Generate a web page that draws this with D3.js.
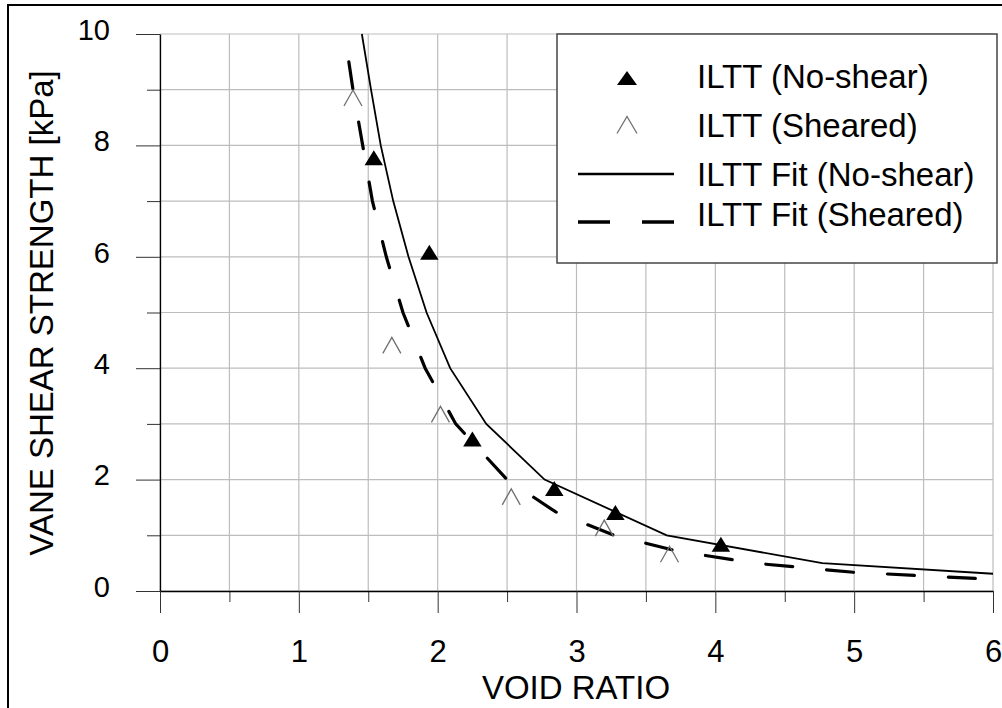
<!DOCTYPE html>
<html>
<head>
<meta charset="utf-8">
<script src="https://cdn.jsdelivr.net/npm/d3@7"></script>
<style>
  body { margin: 0; background: #fff; }
  svg { display: block; font-family: "Liberation Sans", Arial, sans-serif; }
</style>
</head>
<body>
<script>
// measured points
let voidNoShear = [1.54, 1.94, 2.25, 2.84, 3.28, 4.04]
let vaneNoShear = [7.78, 6.08, 2.73, 1.84, 1.41, 0.84]
let voidSheared = [1.39, 1.67, 2.02, 2.53, 3.20, 3.67]
let vaneSheared = [8.85, 4.41, 3.17, 1.69, 1.13, 0.66]

// fit curves
let voidFitNoShear = [1.454, 1.52, 1.59, 1.68, 1.79, 1.92, 2.09, 2.35, 2.77, 3.65, 4.77, 6.0]
let vaneFitNoShear = [10, 9, 8, 7, 6, 5, 4, 3, 2, 1, 0.5, 0.31]
let voidFitSheared = [1.36, 1.39, 1.46, 1.53, 1.63, 1.75, 1.91, 2.13, 2.50, 2.85, 3.27, 3.72, 4.28, 5.0, 6.0]
let vaneFitSheared = [9.5, 9, 8, 7, 6, 5, 4, 3, 2, 1.42, 1, 0.72, 0.5, 0.335, 0.21]

let xTicks = [0, 1, 2, 3, 4, 5, 6]
let yTicks = [0, 2, 4, 6, 8, 10]
let legendLabels = ['ILTT (No-shear)', 'ILTT (Sheared)', 'ILTT Fit (No-shear)', 'ILTT Fit (Sheared)']

let width = 1002, height = 708
let plotL = 160, plotR = 993, plotT = 34, plotB = 591

let x = d3.scaleLinear().domain([0, 6]).range([plotL, plotR])
let y = d3.scaleLinear().domain([0, 10]).range([plotB, plotT])

let svg = d3.select('body').append('svg')
  .attr('width', width)
  .attr('height', height)

// outer frame
svg.append('rect')
  .attr('x', 8).attr('y', 5)
  .attr('width', 1010).attr('height', 720)
  .attr('fill', 'none').attr('stroke', '#000').attr('stroke-width', 2)

// grid
svg.append('g').selectAll('line')
  .data(d3.range(0, 6.01, 0.5))
  .enter().append('line')
  .attr('x1', d => x(d)).attr('x2', d => x(d))
  .attr('y1', plotT).attr('y2', plotB)
  .attr('stroke', '#bdbdbd').attr('stroke-width', 1.2)

svg.append('g').selectAll('line')
  .data(d3.range(0, 10.01, 1))
  .enter().append('line')
  .attr('x1', plotL).attr('x2', plotR)
  .attr('y1', d => y(d)).attr('y2', d => y(d))
  .attr('stroke', '#bdbdbd').attr('stroke-width', 1.2)

// axes
let yMinor = svg.append('g')
  .attr('transform', 'translate(' + plotL + ',0)')
  .call(d3.axisLeft(y).tickValues([1, 3, 5, 7, 9]).tickSize(13).tickSizeOuter(0).tickFormat(''))
yMinor.select('.domain').remove()

let yAxis = svg.append('g')
  .attr('transform', 'translate(' + plotL + ',0)')
  .call(d3.axisLeft(y).tickValues(yTicks).tickSize(24).tickSizeOuter(0).tickPadding(26).tickFormat(d3.format('d')))
yAxis.selectAll('text').attr('font-size', 29).attr('dy', '0.18em').attr('fill', '#000')

let xMinor = svg.append('g')
  .attr('transform', 'translate(0,' + plotB + ')')
  .call(d3.axisBottom(x).tickValues([0.5, 1.5, 2.5, 3.5, 4.5, 5.5]).tickSize(11).tickSizeOuter(0).tickFormat(''))
xMinor.select('.domain').remove()

let xAxis = svg.append('g')
  .attr('transform', 'translate(0,' + plotB + ')')
  .call(d3.axisBottom(x).tickValues(xTicks).tickSize(22).tickSizeOuter(0).tickPadding(27).tickFormat(d3.format('d')))
xAxis.selectAll('text').attr('font-size', 31).attr('fill', '#000')

svg.selectAll('.tick line').attr('stroke', '#333')
svg.selectAll('.domain').attr('stroke', '#000').attr('stroke-width', 1.3)

// axis titles
svg.append('text')
  .attr('transform', 'translate(53,313) rotate(-90)')
  .attr('text-anchor', 'middle')
  .attr('font-size', 33)
  .text('VANE SHEAR STRENGTH [kPa]')

svg.append('text')
  .attr('x', 576).attr('y', 699)
  .attr('text-anchor', 'middle')
  .attr('font-size', 33)
  .text('VOID RATIO')

// fit lines
let line = d3.line().x(d => x(d[0])).y(d => y(d[1]))

svg.append('path')
  .datum(d3.zip(voidFitNoShear, vaneFitNoShear))
  .attr('d', line)
  .attr('fill', 'none').attr('stroke', '#000').attr('stroke-width', 1.8)

svg.append('path')
  .datum(d3.zip(voidFitSheared, vaneFitSheared))
  .attr('d', line)
  .attr('fill', 'none').attr('stroke', '#000').attr('stroke-width', 3.2)
  .attr('stroke-dasharray', '27,34').attr('stroke-linecap', 'round')

// markers
let tri = (w, h) => 'M0,' + (-h / 2) + 'L' + (w / 2) + ',' + (h / 2) + 'L' + (-w / 2) + ',' + (h / 2) + 'Z'
let caret = (w, h) => 'M' + (-w / 2) + ',' + (h / 2) + 'L0,' + (-h / 2) + 'L' + (w / 2) + ',' + (h / 2)

svg.append('g').selectAll('path')
  .data(d3.zip(voidSheared, vaneSheared))
  .enter().append('path')
  .attr('transform', d => 'translate(' + x(d[0]) + ',' + y(d[1]) + ')')
  .attr('d', caret(18, 16))
  .attr('fill', 'none').attr('stroke', '#707070').attr('stroke-width', 1.3)

svg.append('g').selectAll('path')
  .data(d3.zip(voidNoShear, vaneNoShear))
  .enter().append('path')
  .attr('transform', d => 'translate(' + x(d[0]) + ',' + y(d[1]) + ')')
  .attr('d', tri(18.5, 15))
  .attr('fill', '#000')

// legend
let legend = svg.append('g')
legend.append('rect')
  .attr('x', 557).attr('y', 34)
  .attr('width', 440).attr('height', 229)
  .attr('fill', '#fff').attr('stroke', '#444').attr('stroke-width', 1.5)

let rowY = [78, 125, 174, 222]
let textY = [88, 137, 186, 226]

legend.append('path')
  .attr('transform', 'translate(627,' + rowY[0] + ')')
  .attr('d', tri(20, 14)).attr('fill', '#000')
legend.append('path')
  .attr('transform', 'translate(627,' + rowY[1] + ')')
  .attr('d', caret(20, 17))
  .attr('fill', 'none').attr('stroke', '#707070').attr('stroke-width', 1.3)
legend.append('line')
  .attr('x1', 578).attr('x2', 674).attr('y1', rowY[2]).attr('y2', rowY[2])
  .attr('stroke', '#000').attr('stroke-width', 2.6)
legend.append('line')
  .attr('x1', 578).attr('x2', 674).attr('y1', rowY[3]).attr('y2', rowY[3])
  .attr('stroke', '#000').attr('stroke-width', 3.6)
  .attr('stroke-dasharray', '32,32')

legend.selectAll('text')
  .data(legendLabels)
  .enter().append('text')
  .attr('x', 697)
  .attr('y', (d, i) => textY[i])
  .attr('font-size', 33)
  .text(d => d)
</script>
</body>
</html>
